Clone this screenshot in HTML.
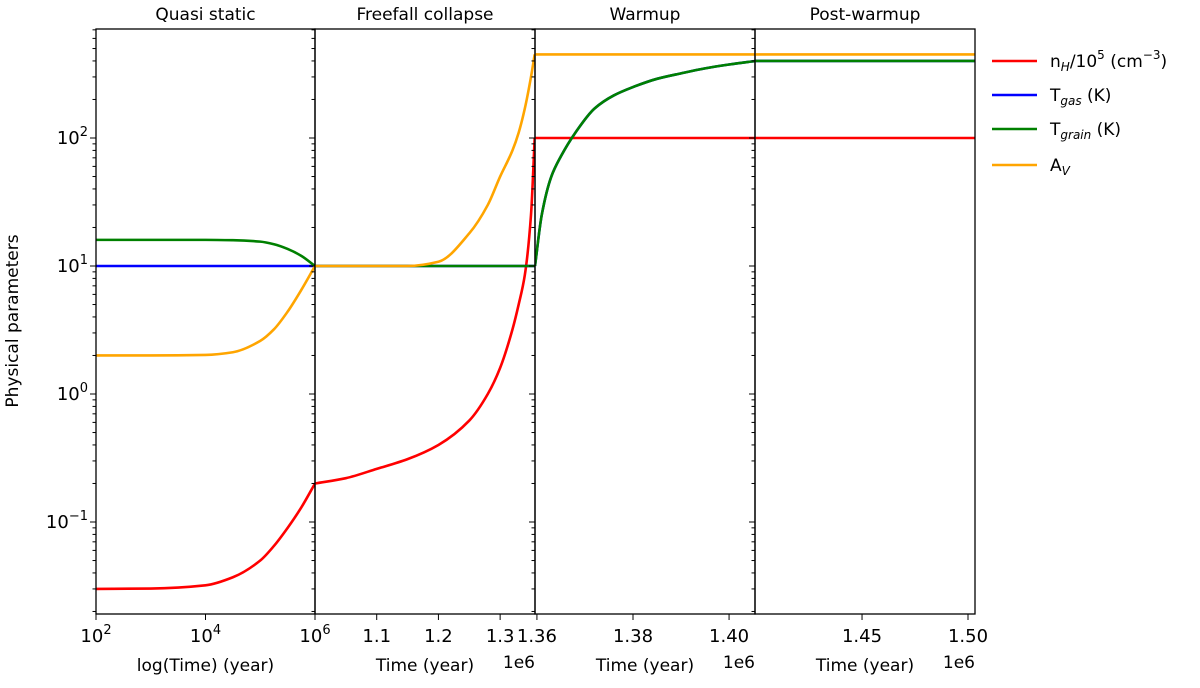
<!DOCTYPE html>
<html><head><meta charset="utf-8"><style>
body{margin:0;background:#fff;}
svg text{font-family:"DejaVu Sans","Liberation Sans",sans-serif;fill:#000;}
</style></head><body>
<svg id="c" width="1200" height="683" xmlns="http://www.w3.org/2000/svg"></svg>
<script>
// ---- data ----
const panelTitles = ["Quasi static","Freefall collapse","Warmup","Post-warmup"];
const yTickLabels = [["10","2"],["10","1"],["10","0"],["10","−1"]];
const yTickValues = [100,10,1,0.1];
// panel 1 (log10 time)
const p1Time = [2,3,4,4.5,5,5.25,5.5,5.75,6];
const p1nH = [0.03,0.0302,0.032,0.037,0.05,0.065,0.09,0.13,0.2];
const p1Tgas = [10,10,10,10,10,10,10,10,10];
const p1Tgrain = [16,16,16,15.9,15.5,14.8,13.6,12,10];
const p1Av = [2,2,2.02,2.12,2.6,3.2,4.4,6.5,10];
// panel 2 (time 1e6 yr)
const p2Time = [1.0,1.05,1.1,1.15,1.2,1.25,1.28,1.3,1.32,1.33,1.34,1.35,1.356];
const p2nH = [0.2,0.22,0.26,0.31,0.4,0.62,1.0,1.6,3.2,5,8.5,25,100];
const p2Tgas = [10,10,10,10,10,10,10,10,10,10,10,10,10];
const p2Tgrain = [10,10,10,10,10,10,10,10,10,10,10,10,10];
const p2Av = [10,10,10,10,10.8,18,30,50,80,110,170,300,450];
// panel 3
const p3Time = [1.3596,1.361,1.363,1.365,1.368,1.372,1.376,1.38,1.385,1.39,1.395,1.4,1.4056];
const p3nH = [100,100,100,100,100,100,100,100,100,100,100,100,100];
const p3Tgas = [10,25,50,72,110,170,215,250,290,320,350,375,400];
const p3Tgrain = [10,25,50,72,110,170,215,250,290,320,350,375,400];
const p3Av = [450,450,450,450,450,450,450,450,450,450,450,450,450];
// panel 4
const p4Time = [1.3995,1.5033];
const p4nH = [100,100];
const p4Tgas = [400,400];
const p4Tgrain = [400,400];
const p4Av = [450,450];
const xTickP1 = [2,4,6], xTickP1Labels=[["10","2"],["10","4"],["10","6"]];
const xTickP2 = [1.1,1.2,1.3], xTickP2Labels=["1.1","1.2","1.3"];
const xTickP3 = [1.36,1.38,1.40], xTickP3Labels=["1.36","1.38","1.40"];
const xTickP4 = [1.45,1.50], xTickP4Labels=["1.45","1.50"];
const colors = ["#ff0000","#0000ff","#008000","#ffa500"];

const svg=document.getElementById('c');
const NS="http://www.w3.org/2000/svg";
function mk(t,a,p){const e=document.createElementNS(NS,t);for(const k in a)e.setAttribute(k,a[k]);(p||svg).appendChild(e);return e;}
const plotTop=29,plotBot=614;
function yS(v){return 394-128*Math.log10(v);}
function monoPath(xs,ys){
 const n=xs.length;if(n<3)return xs.map((x,j)=>(j?'L':'M')+x.toFixed(2)+','+ys[j].toFixed(2)).join('');
 const dx=[],s=[];for(let j=0;j<n-1;j++){dx.push(xs[j+1]-xs[j]);s.push((ys[j+1]-ys[j])/dx[j]);}
 const m=[s[0]];for(let j=1;j<n-1;j++){m.push(s[j-1]*s[j]<=0?0:(3*(dx[j-1]+dx[j]))/((2*dx[j]+dx[j-1])/s[j-1]+(dx[j]+2*dx[j-1])/s[j]));}
 m.push(s[n-2]);
 let d='M'+xs[0].toFixed(2)+','+ys[0].toFixed(2);
 for(let j=0;j<n-1;j++){const h=dx[j]/3;d+='C'+(xs[j]+h).toFixed(2)+','+(ys[j]+m[j]*h).toFixed(2)+' '+(xs[j+1]-h).toFixed(2)+','+(ys[j+1]-m[j+1]*h).toFixed(2)+' '+xs[j+1].toFixed(2)+','+ys[j+1].toFixed(2);}
 return d;}
const panels=[
 {x0:96,x1:315,d:[2,6],t:p1Time,s:[p1nH,p1Tgas,p1Tgrain,p1Av],ticks:xTickP1,tl:xTickP1Labels,xl:"log(Time) (year)",off:false},
 {x0:315,x1:535,d:[1.0,1.3565],t:p2Time,s:[p2nH,p2Tgas,p2Tgrain,p2Av],ticks:xTickP2,tl:xTickP2Labels,xl:"Time (year)",off:true},
 {x0:535,x1:755,d:[1.3596,1.4054],t:p3Time,s:[p3nH,p3Tgas,p3Tgrain,p3Av],ticks:xTickP3,tl:xTickP3Labels,xl:"Time (year)",off:true},
 {x0:755,x1:975,d:[1.3995,1.5033],t:p4Time,s:[p4nH,p4Tgas,p4Tgrain,p4Av],ticks:xTickP4,tl:xTickP4Labels,xl:"Time (year)",off:true}
];
const snames=["nh","tgas","tgrain","av"];
panels.forEach((p,i)=>{
 const g=mk('g',{});
 
 
 const xS=v=>p.x0+(v-p.d[0])/(p.d[1]-p.d[0])*(p.x1-p.x0);
 const cp=mk('clipPath',{id:'cp'+i},g);mk('rect',{x:p.x0,y:plotTop,width:p.x1-p.x0,height:plotBot-plotTop},cp);
 p.s.forEach((ser,k)=>{
   const d=monoPath(p.t.map(xS),ser.map(yS));
   const pa=mk('path',{d:d,fill:'none',stroke:colors[k],'stroke-width':2.6,'clip-path':'url(#cp'+i+')'},g);
   
   
 });
 const r=mk('rect',{x:p.x0,y:plotTop,width:p.x1-p.x0,height:plotBot-plotTop,fill:'none',stroke:'#000','stroke-width':1.3},g);
 
 
 for(let e=-2;e<=2;e++)for(let m=1;m<10;m++){const v=m*Math.pow(10,e);const y=yS(v);if(y<plotTop||y>plotBot)continue;
   mk('line',{x1:p.x0,x2:p.x0-(m==1?6:3.5),y1:y,y2:y,stroke:'#000','stroke-width':1},g);}
 p.ticks.forEach((t,j)=>{const x=xS(t);mk('line',{x1:x,x2:x,y1:plotBot,y2:plotBot+6,stroke:'#000','stroke-width':1},g);
   const lab=p.tl[j];const tx=mk('text',{x:x,y:642,'font-size':18,'text-anchor':'middle'},g);
   if(Array.isArray(lab)){tx.innerHTML=lab[0]+'<tspan dy="-8" font-size="13">'+lab[1]+'</tspan>';}else tx.textContent=lab;
   
   });
 const tt=mk('text',{x:(p.x0+p.x1)/2,y:20,'font-size':17,'text-anchor':'middle'},g);tt.textContent=panelTitles[i];
 
 
 const xl=mk('text',{x:(p.x0+p.x1)/2,y:671,'font-size':17,'text-anchor':'middle'},g);xl.textContent=p.xl;
 
 
 if(p.off){const o=mk('text',{x:p.x1,y:668,'font-size':17,'text-anchor':'end'},g);o.textContent='1e6';
  
  }
});
yTickValues.forEach((v,j)=>{const t=mk('text',{x:88,y:yS(v)+6,'font-size':18,'text-anchor':'end'});
 t.innerHTML=yTickLabels[j][0]+'<tspan dy="-8" font-size="13">'+yTickLabels[j][1]+'</tspan>';
 
 });
const yl=mk('text',{x:18,y:321,'font-size':17,'text-anchor':'middle',transform:'rotate(-90 18 321)'});yl.textContent='Physical parameters';


const legY=[61,95,129,165];
const legendHtml=[
 'n<tspan font-size="12" dy="4" font-style="italic">H</tspan><tspan dy="-4">/10</tspan><tspan font-size="12" dy="-8">5</tspan><tspan dy="8"> (cm</tspan><tspan font-size="12" dy="-8">−3</tspan><tspan dy="8">)</tspan>',
 'T<tspan font-size="12" dy="4" font-style="italic">gas</tspan><tspan dy="-4"> (K)</tspan>',
 'T<tspan font-size="12" dy="4" font-style="italic">grain</tspan><tspan dy="-4"> (K)</tspan>',
 'A<tspan font-size="12" dy="4" font-style="italic">V</tspan>'];
legendHtml.forEach((h,k)=>{const g=mk('g',{});
 
 
 mk('line',{x1:992,x2:1037,y1:legY[k],y2:legY[k],stroke:colors[k],'stroke-width':2.6},g);
 const t=mk('text',{x:1050,y:legY[k]+6,'font-size':17},g);
 t.innerHTML=h;});
</script>
</body></html>
